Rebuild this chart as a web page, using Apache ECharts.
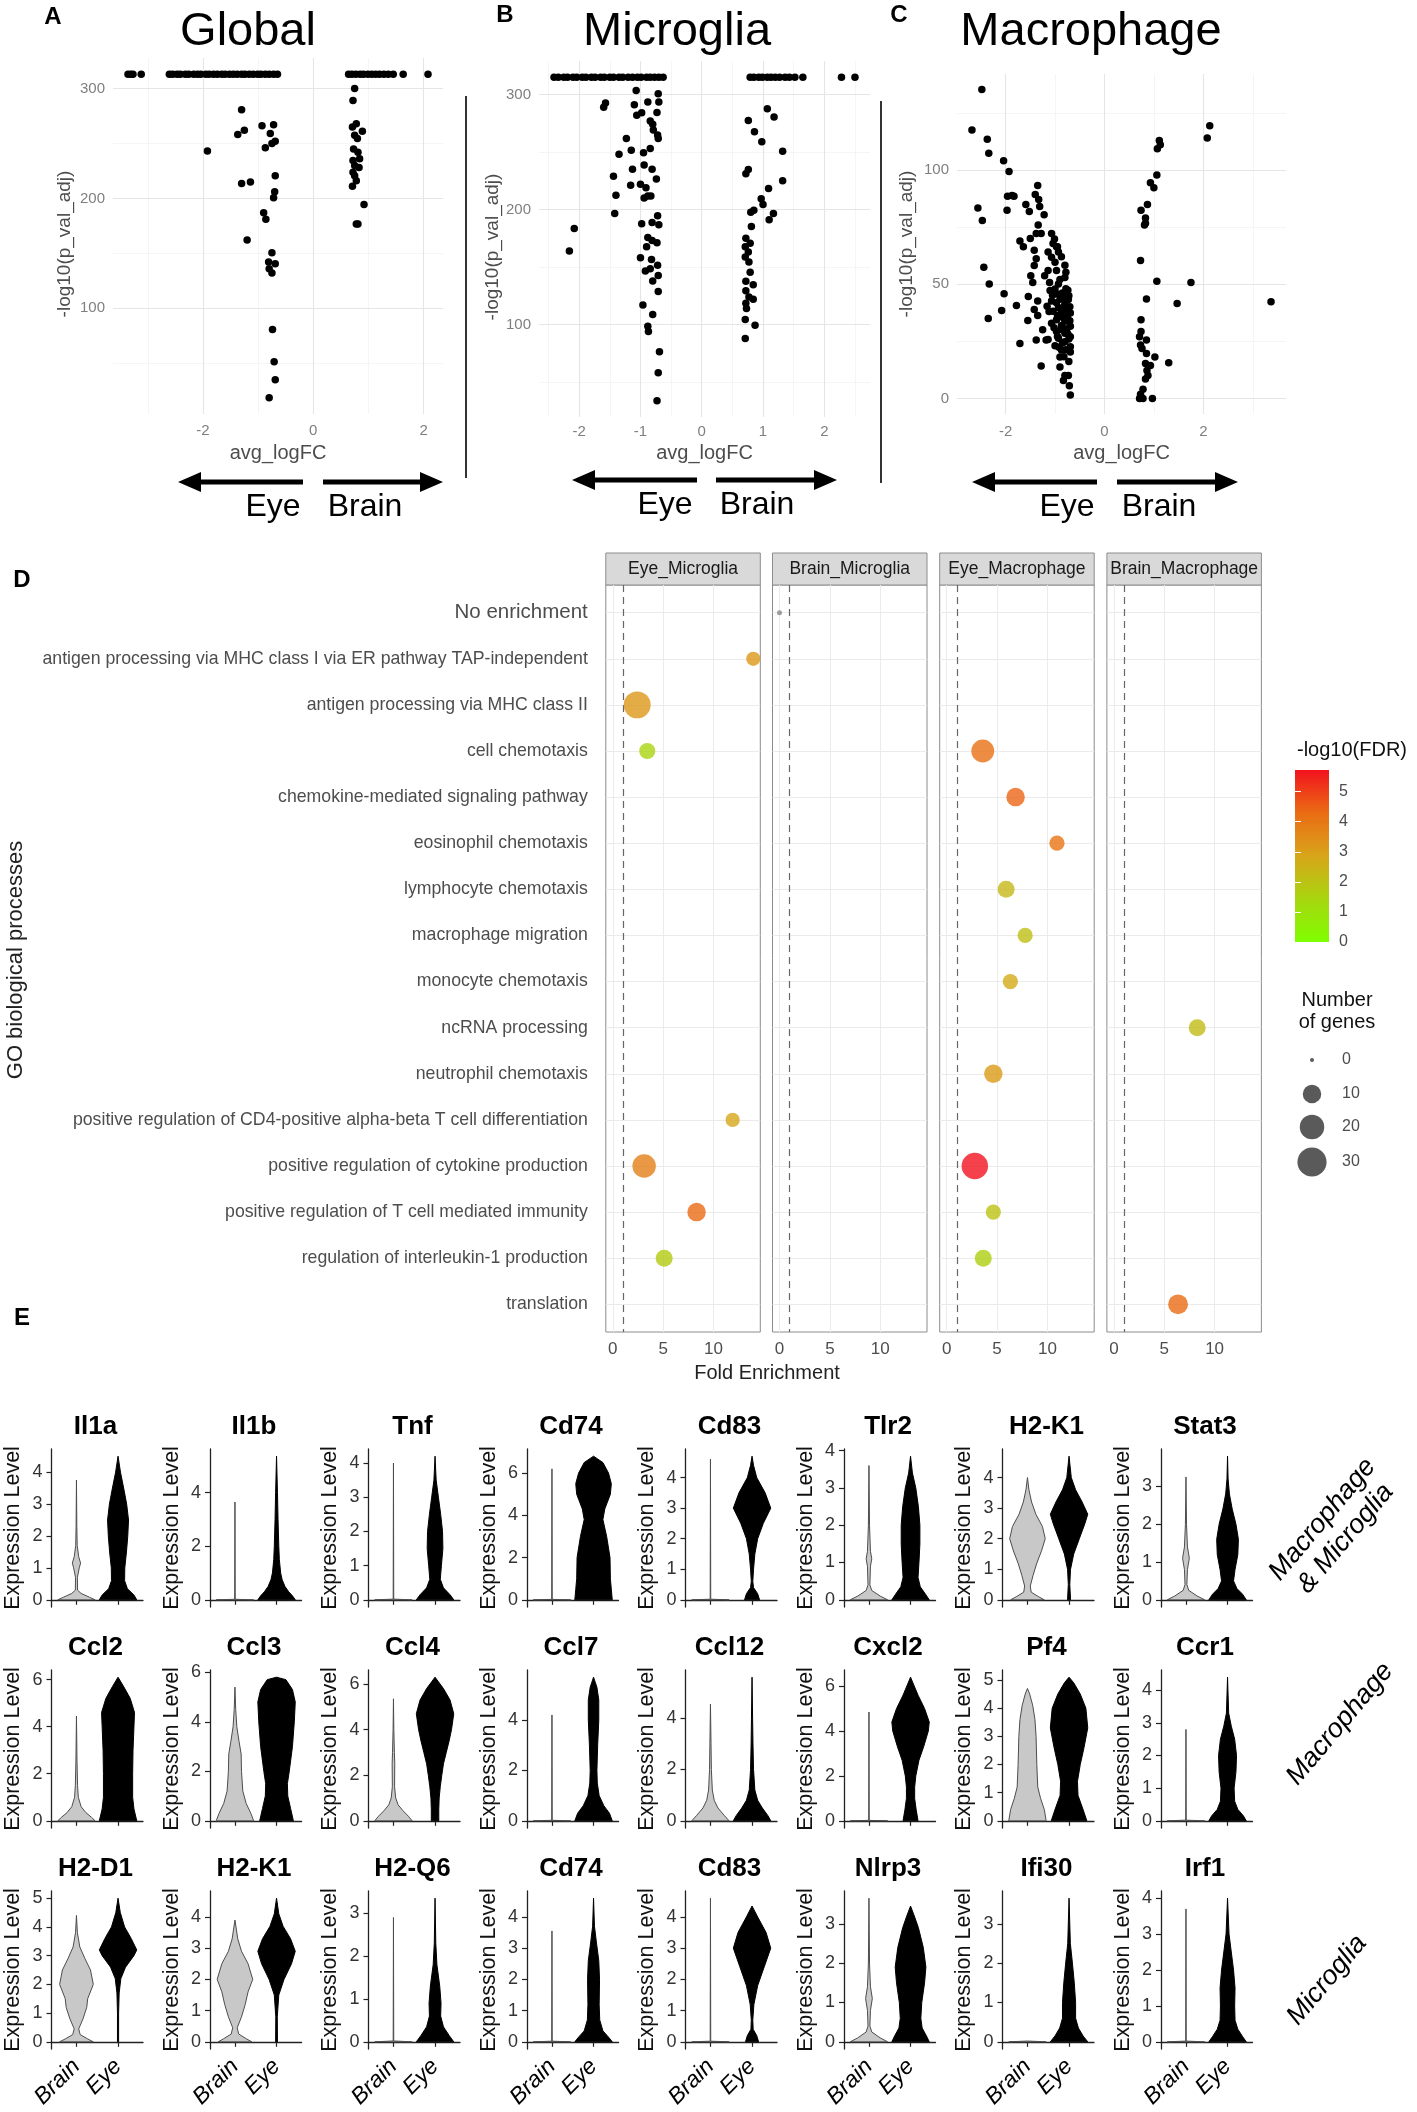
<!DOCTYPE html>
<html>
<head>
<meta charset="utf-8">
<script src="https://cdn.jsdelivr.net/npm/echarts@6/dist/echarts.min.js"></script>
<style>
  html, body { margin: 0; padding: 0; background: #fff; }
  #chart { width: 1417px; height: 2112px; }
</style>
</head>
<body>
<div id="chart"></div>
<script>
// ---------- A-C: volcano data [avg_logFC, -log10(p_val_adj)] ----------
const globalPts = [[-1.30,280.6],[-1.25,262],[-1.37,258],[-1.92,243],[-0.93,266],[-0.72,267],[-0.78,259],[-0.69,252],[-0.87,246],[-0.75,250],
  [-1.30,213.5],[-1.14,215],[-0.69,220.6],[-0.70,206],[-0.72,200.6],[-0.90,187],[-0.86,181],[-1.20,162],[-0.75,150.5],[-0.81,142],
  [-0.69,140.6],[-0.80,136],[-0.75,132],[-0.74,80.6],[-0.71,51.4],[-0.69,35],[-0.80,18.5],
  [0.75,300],[0.72,289],[0.78,268],[0.71,265],[0.89,261],[0.75,257.5],[0.80,254.5],[0.73,245],[0.81,242],[0.84,236],
  [0.72,234.5],[0.75,230],[0.83,228],[0.72,223.7],[0.75,220.6],[0.78,216],[0.71,211],[0.92,194.5],[0.78,176.6],[0.81,176.6]];
// genes with p_val_adj = 0 sit on one capped row at the top
const globalCapFC = [-3.36,-3.31,-3.27,-3.12,-2.61,-2.55,-2.47,-2.41,-2.32,-2.26,-2.17,-2.1,-2.04,-1.95,-1.89,-1.81,-1.74,-1.66,-1.6,-1.52,
  -1.45,-1.38,-1.3,-1.24,-1.16,-1.09,-1.01,-0.95,-0.87,-0.8,-0.72,-0.65,0.64,0.7,0.77,0.85,0.91,0.99,1.06,1.13,1.2,1.28,1.36,1.45,1.63,2.08];
const globalCapP = 313;

const microPts = [[-1.07,303.5],[-0.71,300.6],[-1.57,292.6],[-1.60,288.8],[-1.10,291],[-0.88,293.5],[-0.70,293.5],[-1.06,282],[-0.98,284],[-0.73,284.4],
  [-0.84,277],[-0.80,274],[-0.79,269],[-0.72,264.7],[-0.71,261.8],[-1.23,261.8],[-1.15,251.5],[-0.84,253],[-0.95,249.4],[-1.35,248],
  [-0.94,238.8],[-1.13,235],[-0.81,235],[-1.44,229],[-0.74,226.5],[-1.16,221],[-1.00,222],[-0.91,219],[-0.88,211.8],[-0.94,210],
  [-0.83,211.8],[-1.40,212.4],[-1.42,196.5],[-2.08,183.5],[-2.16,164],[-0.72,194.7],[-0.70,186.8],[-0.98,187.6],[-0.81,188.8],[-0.88,175.6],
  [-0.73,171.2],[-0.81,173],[-0.90,167.6],[-1.00,158],[-0.82,156.5],[-0.84,148.5],[-0.72,151.5],[-0.92,146.5],[-0.71,142.6],[-0.80,138],
  [-0.71,128.8],[-0.96,117],[-0.80,108.8],[-0.88,98.5],[-0.87,94],[-0.69,76.5],[-0.71,58.2],[-0.73,33.8],
  [1.07,287.6],[1.18,280.3],[0.76,277.4],[0.86,267.6],[0.98,258.8],[1.32,250.6],[0.76,234.7],[0.72,231],[1.32,225],[1.09,218.2],
  [0.97,209.4],[1.00,204.4],[0.85,199.4],[0.80,197.6],[1.17,196.5],[1.10,191.2],[0.81,185.3],[0.72,175],[0.79,170.6],[0.71,167.6],
  [0.76,163],[0.71,158.8],[0.77,154.4],[0.79,145.6],[0.72,137.6],[0.84,134.7],[0.72,129.4],[0.77,124],[0.84,122],[0.72,118.5],
  [0.73,114],[0.71,104.4],[0.87,99.4],[0.71,88]];
const microCapFC = [-2.41,-2.34,-2.25,-2.19,-2.1,-2.04,-1.95,-1.89,-1.8,-1.74,-1.65,-1.59,-1.5,-1.44,-1.35,-1.29,-1.2,-1.13,-1.05,-0.99,
  -0.9,-0.84,-0.77,-0.7,-0.63,0.79,0.85,0.93,0.99,1.07,1.13,1.2,1.27,1.36,1.43,1.52,1.65,2.28,2.5];
const microCapP = 315;

const macroPts = [[-2.48,135.3],[-2.68,117.5],[-2.37,113.5],[-2.34,107.4],[-2.04,104.1],[-1.93,99.4],[-1.35,93.3],[-1.40,89.3],[-1.33,87.1],[-1.96,88.6],
  [-1.87,88.9],[-1.83,88.6],[-2.56,83.4],[-1.59,84.9],[-1.52,81.9],[-1.97,82.4],[-2.47,77.9],[-1.31,84.1],[-1.22,80.4],[-1.34,76.0],
  [-1.28,72.3],[-1.38,72.3],[-1.50,70.1],[-1.07,72.3],[-1.71,69.0],[-1.64,66.4],[-1.04,67.9],[-0.97,66.4],[-1.14,64.1],[-0.93,64.1],
  [-1.42,64.9],[-1.38,61.2],[-1.07,61.9],[-1.00,59.7],[-1.42,58.2],[-2.44,57.5],[-1.14,56.0],[-0.97,56.0],[-1.49,53.8],[-1.21,53.8],
  [-0.80,53.0],[-2.33,50.1],[-1.45,50.8],[-1.11,50.8],[-0.93,50.1],[-1.00,47.9],[-0.74,47.4],[-2.03,45.9],[-1.54,44.7],[-0.93,45.6],
  [-0.83,44.1],[-0.73,43.4],[-1.35,42.7],[-1.07,42.7],[-0.97,41.9],[-0.80,41.2],[-1.78,40.7],[-1.16,40.4],[-0.93,39.7],[-0.76,39.0],
  [-2.08,38.5],[-1.42,39.0],[-1.04,38.2],[-0.87,37.5],[-0.69,37.5],[-1.35,36.4],[-2.35,35.0],[-1.55,34.2],[-0.97,34.5],[-0.80,33.8],
  [-1.07,33.0],[-0.87,32.0],[-0.69,31.6],[-1.25,30.1],[-0.97,29.3],[-0.80,28.6],[-0.69,27.1],[-1.14,25.9],[-0.93,26.4],[-1.38,25.6],
  [-1.18,25.6],[-1.71,24.1],[-0.80,24.9],[-1.00,23.1],[-0.69,22.7],[-0.87,21.2],[-0.69,20.4],[-0.90,18.2],[-1.28,14.2],[-0.90,13.8],
  [-0.80,10.1],[-0.73,10.1],[-0.83,7.9],[-0.71,5.6],[-0.69,1.5],
  [-0.85,46.2],[-0.78,48.1],[-0.72,45.0],[-0.90,43.5],[-0.82,40.3],[-0.75,36.2],[-0.70,34.1],[-0.95,36.4],[-0.88,30.2],[-0.76,30.5],
  [-0.72,26.1],[-0.85,24.3],[-0.78,21.4],[-0.95,27.2],[-1.02,31.0],[-0.90,52.1],[-0.78,55.3],[-1.05,45.2],[-1.12,38.1],[-0.82,18.3],
  [-0.72,16.2],[-0.92,22.4],[-1.10,47.3],[-0.70,40.2],[-0.80,58.4],[-0.87,62.1],[-0.95,66.5],[-1.01,69.8],[-0.84,35.5],[-0.74,28.3],
  [2.13,119.4],[2.08,114.1],[1.11,113.0],[1.13,111.1],[1.07,109.3],[1.06,97.8],[0.93,94.5],[1.00,92.3],[0.87,84.9],[0.74,82.4],
  [0.83,79.0],[0.83,76.7],[0.81,76.0],[0.73,60.4],[1.06,51.3],[1.75,50.8],[0.85,43.6],[1.47,41.6],[3.37,42.4],[0.74,34.5],
  [0.74,29.3],[0.71,27.1],[0.85,25.6],[0.73,23.4],[0.76,21.9],[0.85,19.7],[1.02,18.2],[1.30,15.7],[0.83,15.3],[0.93,14.5],
  [0.86,12.3],[0.88,10.1],[0.83,8.6],[0.78,4.1],[0.73,1.9],[0.71,0],[0.78,0],[0.97,0]];

const volcanoTitles = ['Global', 'Microglia', 'Macrophage'];
const volcanoXTicks = [[-2, 0, 2], [-2, -1, 0, 1, 2], [-2, 0, 2]];
const volcanoYTicks = [[100, 200, 300], [100, 200, 300], [0, 50, 100]];
const volcanoXMinor = [[-3, -1, 1], [-2.5, -1.5, -0.5, 0.5, 1.5, 2.5], [-1, 1, 3]];
const volcanoYMinor = [[50, 150, 250], [50, 150, 250], [25, 75, 125]];

// ---------- D: GO enrichment ----------
const goTerms = ['No enrichment',
  'antigen processing via MHC class I via ER pathway TAP-independent',
  'antigen processing via MHC class II', 'cell chemotaxis', 'chemokine-mediated signaling pathway',
  'eosinophil chemotaxis', 'lymphocyte chemotaxis', 'macrophage migration', 'monocyte chemotaxis',
  'ncRNA processing', 'neutrophil chemotaxis',
  'positive regulation of CD4-positive alpha-beta T cell differentiation',
  'positive regulation of cytokine production', 'positive regulation of T cell mediated immunity',
  'regulation of interleukin-1 production', 'translation'];
const facetNames = ['Eye_Microglia', 'Brain_Microglia', 'Eye_Macrophage', 'Brain_Macrophage'];
const enrFacet = [0, 0, 0, 2, 2, 2, 2, 2, 2, 3, 2, 0, 0, 2, 0, 2, 0, 2, 3];
const enrTerm  = [1, 2, 3, 3, 4, 5, 6, 7, 8, 9, 10, 11, 12, 12, 13, 13, 14, 14, 15];
const enrFold  = [13.95, 2.42, 3.42, 3.58, 6.84, 10.95, 5.9, 7.79, 6.32, 8.27, 4.63, 11.9, 3.11, 2.79, 8.32, 4.63, 5.1, 3.63, 6.37];
const enrGenes = [5, 25, 7, 17, 10, 6, 8, 6, 6, 8, 10, 5, 18, 24, 10, 6, 8, 8, 12];
const enrFDR   = [3.2, 3.2, 1.5, 4.2, 4.4, 4.1, 2.3, 2.1, 2.7, 2.2, 3.1, 2.8, 3.8, 5.72, 4.3, 2.0, 1.8, 1.6, 4.3];
const noEnrFacet = 1, noEnrFold = 0, noEnrGenes = 0;
const foldTicks = [0, 5, 10];
const fdrTicks = [0, 1, 2, 3, 4, 5];
const fdrMax = 5.72;
const fdrColors = ['#7fff00', '#a8d60f', '#d8a51a', '#ea6c14', '#f2121e'];
const sizeLegendVals = [0, 10, 20, 30];

// ---------- E: violin profiles [expression level, relative half width] ----------
const vlnGenes = ['Il1a', 'Il1b', 'Tnf', 'Cd74', 'Cd83', 'Tlr2', 'H2-K1', 'Stat3',
  'Ccl2', 'Ccl3', 'Ccl4', 'Ccl7', 'Ccl12', 'Cxcl2', 'Pf4', 'Ccr1',
  'H2-D1', 'H2-K1', 'H2-Q6', 'Cd74', 'Cd83', 'Nlrp3', 'Ifi30', 'Irf1'];
const vlnGroups = ['Brain', 'Eye'];
const vlnRowLabels = ['Macrophage\n& Microglia', 'Macrophage', 'Microglia'];
const vlnTickStep = [1, 2, 1, 2, 1, 1, 1, 1, 2, 2, 2, 2, 2, 2, 1, 1, 1, 1, 1, 1, 1, 1, 1, 1];
const vlnBrain = [
  [[0,1],[0.08,0.7],[0.2,0.25],[0.3,0.06],[0.7,0.05],[1.0,0.15],[1.15,0.22],[1.35,0.12],[1.7,0.04],[2.3,0.02],[3.75,0]],
  [[0,1],[0.02,0.015],[3.65,0]],
  [[0,1],[0.02,0.015],[4.0,0]],
  [[0,1],[0.02,0.015],[6.2,0]],
  [[0,1],[0.02,0.015],[4.6,0]],
  [[0,1],[0.1,0.6],[0.25,0.15],[0.4,0.05],[0.9,0.08],[1.1,0.15],[1.3,0.08],[2,0.03],[3.6,0]],
  [[0,0.9],[0.1,0.6],[0.25,0.2],[0.45,0.15],[0.8,0.3],[1.2,0.5],[1.6,0.75],[2,0.95],[2.4,0.8],[2.8,0.45],[3.2,0.22],[3.6,0.08],[4.0,0]],
  [[0,1],[0.1,0.6],[0.25,0.15],[0.4,0.05],[0.8,0.08],[1.1,0.18],[1.4,0.08],[2,0.03],[3.25,0]],
  [[0,1],[0.15,0.8],[0.35,0.5],[0.6,0.25],[1,0.1],[1.5,0.06],[2.5,0.03],[4.45,0]],
  [[0,1],[0.3,0.85],[0.7,0.6],[1.2,0.42],[2,0.35],[2.7,0.33],[3.2,0.22],[3.8,0.1],[4.5,0.04],[5.4,0]],
  [[0,1],[0.2,0.8],[0.45,0.5],[0.7,0.25],[1,0.12],[1.5,0.06],[2.5,0.07],[3,0.05],[4,0.02],[5.35,0]],
  [[0,1],[0.02,0.015],[4.2,0]],
  [[0,1],[0.2,0.75],[0.5,0.4],[0.8,0.2],[1.2,0.1],[2,0.05],[3,0.03],[4.55,0]],
  [[0,1],[0.02,0.015],[4.85,0]],
  [[0,1],[0.4,0.9],[0.8,0.7],[1.2,0.55],[2,0.5],[3,0.46],[3.6,0.4],[4.1,0.28],[4.5,0.12],[4.7,0]],
  [[0,1],[0.02,0.015],[2.8,0]],
  [[0,0.9],[0.1,0.6],[0.25,0.2],[0.45,0.12],[0.8,0.35],[1.2,0.55],[1.5,0.6],[2,0.9],[2.5,0.75],[2.9,0.45],[3.3,0.18],[3.8,0.05],[4.4,0]],
  [[0,0.9],[0.1,0.6],[0.25,0.2],[0.45,0.12],[0.8,0.35],[1.2,0.55],[1.6,0.7],[2,0.95],[2.5,0.7],[2.9,0.35],[3.3,0.15],[3.9,0]],
  [[0,1],[0.02,0.015],[2.9,0]],
  [[0,1],[0.02,0.015],[3.55,0]],
  [[0,1],[0.02,0.015],[4.6,0]],
  [[0,1],[0.1,0.6],[0.25,0.15],[0.4,0.05],[0.8,0.08],[1.1,0.18],[1.4,0.08],[2,0.03],[3.65,0]],
  [[0,1],[0.02,0]],
  [[0,1],[0.02,0.015],[3.7,0]]
];
const vlnEye = [
  [[0,1],[0.15,0.85],[0.35,0.5],[0.6,0.35],[1,0.36],[1.5,0.45],[2,0.52],[2.5,0.56],[3,0.46],[3.5,0.3],[4,0.13],[4.5,0]],
  [[0,1],[0.15,0.85],[0.3,0.65],[0.5,0.45],[0.75,0.3],[1,0.22],[1.5,0.15],[2,0.12],[3,0.08],[4,0.05],[5.36,0]],
  [[0,1],[0.15,0.8],[0.35,0.45],[0.6,0.28],[1,0.34],[1.5,0.42],[2,0.4],[2.5,0.3],[3,0.18],[3.5,0.06],[4.2,0]],
  [[0,1],[0.5,0.95],[1,0.9],[2,0.88],[3,0.7],[3.8,0.5],[4.3,0.6],[5,0.9],[5.5,0.95],[6,0.8],[6.5,0.5],[6.8,0]],
  [[0,0.4],[0.2,0.3],[0.4,0.08],[0.6,0.04],[1,0.08],[1.5,0.15],[2,0.3],[2.5,0.6],[3,1],[3.5,0.7],[4,0.25],[4.4,0.08],[4.7,0]],
  [[0,1],[0.15,0.8],[0.35,0.52],[0.6,0.4],[1,0.45],[1.5,0.5],[2,0.5],[2.5,0.42],[3,0.28],[3.4,0.1],[3.85,0]],
  [[0,0.08],[0.5,0.04],[1,0.08],[1.5,0.25],[2,0.55],[2.5,0.85],[2.8,1],[3.2,0.7],[3.6,0.35],[4,0.12],[4.7,0]],
  [[0,1],[0.15,0.8],[0.3,0.5],[0.5,0.32],[0.8,0.4],[1.2,0.55],[1.6,0.58],[2,0.45],[2.4,0.25],[2.8,0.1],[3.2,0.03],[3.8,0]],
  [[0,1],[0.5,0.85],[1,0.78],[2,0.78],[3,0.8],[4,0.85],[4.6,0.88],[5.2,0.65],[5.7,0.3],[6.1,0]],
  [[0,0.9],[0.5,0.75],[1,0.6],[1.5,0.58],[2,0.68],[3,0.85],[4,0.95],[4.8,1],[5.3,0.85],[5.7,0.5],[5.8,0]],
  [[0,0.2],[0.5,0.2],[1,0.22],[1.5,0.28],[2,0.36],[2.5,0.45],[3,0.6],[3.5,0.75],[4,0.88],[4.7,1],[5.3,0.8],[5.8,0.45],[6.3,0]],
  [[0,1],[0.3,0.85],[0.6,0.55],[1,0.3],[1.5,0.2],[2,0.18],[3,0.22],[4,0.28],[4.8,0.28],[5.3,0.18],[5.7,0]],
  [[0,1],[0.2,0.85],[0.5,0.55],[0.8,0.3],[1.2,0.15],[2,0.08],[3,0.05],[4,0.03],[5.6,0]],
  [[0,0.4],[0.5,0.3],[1,0.22],[1.5,0.22],[2,0.28],[2.7,0.45],[3.3,0.7],[4,0.95],[4.4,1],[5,0.75],[5.6,0.4],[6.4,0]],
  [[0,0.95],[0.4,0.75],[0.9,0.48],[1.4,0.45],[2,0.6],[2.6,0.8],[3.3,1],[4,0.9],[4.5,0.6],[4.9,0.25],[5.1,0]],
  [[0,1],[0.15,0.85],[0.35,0.55],[0.6,0.38],[1,0.35],[1.5,0.45],[2,0.48],[2.5,0.38],[2.9,0.2],[3.3,0.06],[4.4,0]],
  [[0,0.03],[1,0.03],[1.7,0.06],[2.2,0.15],[2.6,0.4],[3,0.85],[3.2,1],[3.6,0.7],[4,0.35],[4.5,0.12],[5,0]],
  [[0,0.05],[0.8,0.04],[1.5,0.12],[2,0.4],[2.5,0.8],[2.9,1],[3.3,0.75],[3.7,0.35],[4.1,0.12],[4.6,0]],
  [[0,1],[0.15,0.75],[0.35,0.45],[0.6,0.3],[0.9,0.32],[1.3,0.25],[1.8,0.1],[2.3,0.04],[3.35,0]],
  [[0,1],[0.15,0.8],[0.35,0.5],[0.7,0.33],[1.2,0.3],[2,0.32],[2.6,0.28],[3.2,0.15],[3.7,0.05],[4.6,0]],
  [[0,0.35],[0.2,0.25],[0.4,0.06],[0.7,0.04],[1.2,0.1],[1.8,0.3],[2.4,0.65],[3,1],[3.5,0.75],[4,0.3],[4.35,0]],
  [[0,1],[0.15,0.85],[0.35,0.62],[0.6,0.55],[1,0.6],[1.5,0.75],[1.9,0.82],[2.4,0.68],[2.9,0.42],[3.2,0.2],[3.45,0]],
  [[0,1],[0.15,0.75],[0.35,0.5],[0.6,0.35],[1,0.35],[1.5,0.28],[2,0.18],[2.5,0.07],[3.65,0]],
  [[0,1],[0.15,0.8],[0.35,0.55],[0.6,0.4],[1,0.38],[1.5,0.4],[2,0.32],[2.5,0.2],[3,0.08],[4,0]]
];

// ---------- helpers ----------
const FONT = '"Liberation Sans", Arial, Helvetica, sans-serif';
const grids = [], xAxes = [], yAxes = [], series = [], graphics = [];
let chart = null;

function addGrid(left, top, width, height, extra) {
  grids.push(Object.assign({ left, top, width, height, containLabel: false, outerBoundsMode: 'none' }, extra || {}));
  return grids.length - 1;
}
// ggplot style 5% expansion
function expand(vals) {
  const lo = Math.min(...vals), hi = Math.max(...vals), pad = (hi - lo) * 0.05;
  return [lo - pad, hi + pad];
}
function guides(g, items) {
  series.push({ type: 'line', xAxisIndex: g, yAxisIndex: g, data: [], silent: true, z: 1,
    markLine: { silent: true, z: 1, animation: false, symbol: ['none', 'none'], label: { show: false },
      emphasis: { disabled: true }, data: items } });
}
const vLine = (v, color, width, type) => ({ xAxis: v, lineStyle: { color, width, type: type || 'solid' } });
const hLine = (v, color, width, type) => ({ yAxis: v, lineStyle: { color, width, type: type || 'solid' } });

function text(x, y, s, size, opt) {
  opt = opt || {};
  graphics.push({ type: 'text', x, y, rotation: opt.rotation || 0, z: 50, silent: true,
    style: { text: s, fontSize: size, fontFamily: FONT, fontWeight: opt.weight || 'normal',
      fontStyle: opt.italic ? 'italic' : 'normal', fill: opt.color || '#000',
      align: opt.align || 'center', textAlign: opt.align || 'center',
      verticalAlign: 'middle', textVerticalAlign: 'middle', lineHeight: opt.lineHeight || size * 1.15 } });
}
function arrow(xTail, xTip, y) {
  const dir = Math.sign(xTip - xTail);
  graphics.push({ type: 'line', silent: true, shape: { x1: xTail, y1: y, x2: xTip - dir * 14, y2: y },
    style: { stroke: '#000', lineWidth: 5 } });
  graphics.push({ type: 'polygon', silent: true,
    shape: { points: [[xTip, y], [xTip - dir * 23, y - 10], [xTip - dir * 23, y + 10]] }, style: { fill: '#000' } });
}

// ---------- A-C volcano panels ----------
const volcanoLayout = [
  { box: [113, 58, 330, 356], yGap: 39, yPad: [0, 16, 0, 0], xMargin: 9, xGap: 29 },
  { box: [539, 61, 331, 356], yGap: 37, yPad: [0, 16, 0, 0], xMargin: 7, xGap: 26 },
  { box: [957, 74, 329, 340], yGap: 41, yPad: [0, 0, 0, 0], xMargin: 10, xGap: 29 }
];
const volcanoData = [
  globalPts.concat(globalCapFC.map(x => [x, globalCapP])),
  microPts.concat(microCapFC.map(x => [x, microCapP])),
  macroPts
];
volcanoData.forEach((pts, i) => {
  const L = volcanoLayout[i];
  const g = addGrid(...L.box);
  const xr = expand(pts.map(d => d[0])), yr = expand(pts.map(d => d[1]));
  xAxes.push({ type: 'value', gridIndex: g, min: xr[0], max: xr[1],
    axisLine: { show: false }, axisTick: { show: false }, splitLine: { show: false },
    axisLabel: { customValues: volcanoXTicks[i], color: '#7f7f7f', fontSize: 15, fontFamily: FONT, margin: L.xMargin },
    name: 'avg_logFC', nameLocation: 'middle', nameGap: L.xGap,
    nameTextStyle: { fontSize: 20, color: '#4d4d4d', fontFamily: FONT } });
  yAxes.push({ type: 'value', gridIndex: g, min: yr[0], max: yr[1],
    axisLine: { show: false }, axisTick: { show: false }, splitLine: { show: false },
    axisLabel: { customValues: volcanoYTicks[i], color: '#7f7f7f', fontSize: 15, fontFamily: FONT, margin: 8 },
    name: '-log10(p_val_adj)', nameLocation: 'middle', nameGap: L.yGap,
    nameTextStyle: { fontSize: 19, color: '#4d4d4d', fontFamily: FONT, padding: L.yPad } });
  guides(g, [
    ...volcanoXMinor[i].map(v => vLine(v, '#f2f2f2', 0.8)),
    ...volcanoYMinor[i].map(v => hLine(v, '#f2f2f2', 0.8)),
    ...volcanoXTicks[i].map(v => vLine(v, '#e5e5e5', 1.1)),
    ...volcanoYTicks[i].map(v => hLine(v, '#e5e5e5', 1.1))
  ]);
  series.push({ type: 'scatter', xAxisIndex: g, yAxisIndex: g, data: pts, symbolSize: 7.5, z: 10,
    itemStyle: { color: '#000', opacity: 1 }, emphasis: { disabled: true } });
});

// titles, arrows, Eye / Brain labels
text(53, 17, 'A', 24, { weight: 'bold' });
text(505, 15, 'B', 24, { weight: 'bold' });
text(899, 15, 'C', 24, { weight: 'bold' });
const titleX = [248, 677, 1091];
volcanoTitles.forEach((t, i) => text(titleX[i], 32, t, 47));
// [left tail, left tip, right tail, right tip, arrow y, Eye x, Brain x, text y]
const arrowSpec = [[303, 178, 323, 443, 482, 273, 365, 507], [697, 572, 716, 837, 480, 665, 757, 505],
  [1097, 972, 1117, 1238, 482, 1067, 1159, 507]];
arrowSpec.forEach(a => {
  arrow(a[0], a[1], a[4]);
  arrow(a[2], a[3], a[4]);
  text(a[5], a[7], 'Eye', 32);
  text(a[6], a[7], 'Brain', 32);
});
graphics.push({ type: 'line', silent: true, shape: { x1: 466, y1: 96, x2: 466, y2: 478 }, style: { stroke: '#333', lineWidth: 2 } });
graphics.push({ type: 'line', silent: true, shape: { x1: 881, y1: 101, x2: 881, y2: 483 }, style: { stroke: '#333', lineWidth: 2 } });

// ---------- D: GO enrichment facets ----------
const facetLeft = [605.8, 772.5, 939.7, 1106.9];
const facetW = 154.5, facetTop = 585, facetH = 747;
const foldRange = expand(enrFold.concat([noEnrFold]));
const termIdx = goTerms.map((t, i) => i);
const dotSeries = [];
const sizeOf = n => 4 + 4.59 * Math.sqrt(n);

facetNames.forEach((fname, f) => {
  const g = addGrid(facetLeft[f], facetTop, facetW, facetH,
    { show: true, borderColor: '#8c8c8c', borderWidth: 1, backgroundColor: 'rgba(0,0,0,0)' });
  xAxes.push({ type: 'value', gridIndex: g, min: foldRange[0], max: foldRange[1],
    axisLine: { show: false }, splitLine: { show: false },
    axisTick: { show: true, customValues: foldTicks, length: 5, lineStyle: { color: '#444' } },
    axisLabel: { customValues: foldTicks, fontSize: 17, color: '#4d4d4d', fontFamily: FONT, margin: 9 } });
  yAxes.push({ type: 'value', gridIndex: g, min: -0.6, max: goTerms.length - 0.4, inverse: true,
    axisLine: { show: false }, splitLine: { show: false },
    axisTick: { show: f === 0, customValues: termIdx, length: 5, lineStyle: { color: '#444' } },
    axisLabel: { show: f === 0, customValues: termIdx, margin: 18, fontSize: 17.7, color: '#4d4d4d', fontFamily: FONT,
      formatter: v => (v === 0 ? '{big|' + goTerms[0] + '}' : goTerms[v]),
      rich: { big: { fontSize: 20.5, color: '#4d4d4d', fontFamily: FONT } } } });
  guides(g, [
    ...foldTicks.map(v => vLine(v, '#ebebeb', 1)),
    ...termIdx.map(v => hLine(v, '#ebebeb', 1)),
    vLine(1, '#666', 1.2, [7, 5])
  ]);
  const pts = [];
  enrFacet.forEach((fi, i) => { if (fi === f) pts.push([enrFold[i], enrTerm[i], fi, enrGenes[i], enrFDR[i]]); });
  dotSeries.push(series.length);
  series.push({ type: 'scatter', xAxisIndex: g, yAxisIndex: g, data: pts, z: 10,
    symbolSize: v => sizeOf(v[3]), itemStyle: { opacity: 0.8 }, emphasis: { disabled: true } });
  if (f === noEnrFacet) {
    series.push({ type: 'scatter', xAxisIndex: g, yAxisIndex: g, z: 10,
      data: [[noEnrFold, 0, f, noEnrGenes]], symbolSize: v => sizeOf(v[3]) + 1,
      itemStyle: { color: '#888' }, emphasis: { disabled: true } });
  }
  // facet strip
  graphics.push({ type: 'rect', silent: true, shape: { x: facetLeft[f], y: 553, width: facetW, height: 32 },
    style: { fill: '#d9d9d9', stroke: '#8c8c8c', lineWidth: 1 } });
  text(facetLeft[f] + facetW / 2, 569.5, fname, 17.5, { color: '#1a1a1a' });
});
text(22, 580, 'D', 24, { weight: 'bold' });
text(16, 960, 'GO biological processes', 22, { rotation: Math.PI / 2, color: '#222' });
text(767, 1373, 'Fold Enrichment', 20, { color: '#222' });

// colour bar for -log10(FDR)
const cb = addGrid(1295, 770, 34, 172, { show: true, borderWidth: 0,
  backgroundColor: { type: 'linear', x: 0, y: 1, x2: 0, y2: 0,
    colorStops: fdrColors.map((c, i) => ({ offset: i / (fdrColors.length - 1), color: c })) } });
xAxes.push({ type: 'value', gridIndex: cb, min: 0, max: 1, show: false });
yAxes.push({ type: 'value', gridIndex: cb, min: 0, max: fdrMax, position: 'right',
  axisLine: { show: false }, splitLine: { show: false },
  axisTick: { show: true, inside: true, length: 6, customValues: fdrTicks, lineStyle: { color: '#fff', width: 1 } },
  axisLabel: { customValues: fdrTicks, fontSize: 16, color: '#4d4d4d', fontFamily: FONT, margin: 10 } });
yAxes.push({ type: 'value', gridIndex: cb, min: 0, max: fdrMax, position: 'left',
  axisLine: { show: false }, splitLine: { show: false }, axisLabel: { show: false },
  axisTick: { show: true, inside: true, length: 6, customValues: fdrTicks, lineStyle: { color: '#fff', width: 1 } } });
series.push({ type: 'scatter', xAxisIndex: cb, yAxisIndex: yAxes.length - 2, data: [], silent: true });
text(1297, 750, '-log10(FDR)', 20, { align: 'left', color: '#111' });

// size legend
text(1337, 1000, 'Number', 20, { color: '#111' });
text(1337, 1022, 'of genes', 20, { color: '#111' });
const sizeLegendY = [1060, 1094, 1127, 1162];
sizeLegendVals.forEach((n, i) => {
  graphics.push({ type: 'circle', silent: true, shape: { cx: 1312, cy: sizeLegendY[i], r: sizeOf(n) / 2 },
    style: { fill: '#5a5a5a' } });
  text(1342, sizeLegendY[i], String(n), 16, { align: 'left', color: '#4d4d4d' });
});

// ---------- E: violin plots ----------
text(22, 1318, 'E', 24, { weight: 'bold' });
const vlnLeft0 = 51.5, vlnStepX = 158.5, vlnTop0 = 1449, vlnStepY = 221, vlnW = 91.5, vlnH = 158;
vlnGenes.forEach((gene, k) => {
  const r = Math.floor(k / 8), c = k % 8;
  const left = vlnLeft0 + vlnStepX * c, top = vlnTop0 + vlnStepY * r;
  const profiles = [vlnBrain[k], vlnEye[k]];
  const M = Math.max(...profiles.map(p => p[p.length - 1][0]));
  const step = vlnTickStep[k];
  const ticks = [];
  for (let t = 0; t <= 1.05 * M + 1e-9; t += step) ticks.push(t);
  const g = addGrid(left, top, vlnW, vlnH);
  xAxes.push({ type: 'value', gridIndex: g, min: 0.4, max: 2.6, splitLine: { show: false },
    axisLine: { show: true, lineStyle: { color: '#222', width: 1.3 } },
    axisTick: { show: true, customValues: [1, 2], length: 5, lineStyle: { color: '#222', width: 1.2 } },
    axisLabel: { show: r === 2, customValues: [1, 2], formatter: v => vlnGroups[Math.round(v) - 1],
      rotate: 45, fontSize: 23, fontStyle: 'italic', color: '#000', fontFamily: FONT, margin: 14 } });
  yAxes.push({ type: 'value', gridIndex: g, min: -0.05 * M, max: 1.05 * M, splitLine: { show: false },
    axisLine: { show: true, lineStyle: { color: '#222', width: 1.3 } },
    axisTick: { show: true, customValues: ticks, length: 5, lineStyle: { color: '#222', width: 1.2 } },
    axisLabel: { customValues: ticks, fontSize: 18, color: '#333', fontFamily: FONT, margin: 9 },
    name: 'Expression Level', nameLocation: 'middle', nameGap: 27,
    nameTextStyle: { fontSize: 21.5, color: '#111', fontFamily: FONT } });
  series.push({ type: 'custom', coordinateSystem: 'cartesian2d', xAxisIndex: g, yAxisIndex: g, z: 10,
    data: profiles.map((p, i) => [i + 1, p[p.length - 1][0]]),
    encode: { x: 0, y: 1 },
    renderItem: (params, api) => {
      const toPx = api.coord ? (p => api.coord(p)) : (p => chart.convertToPixel({ gridIndex: g }, p));
      const i = params.dataIndex, prof = profiles[i], xc = i + 1;
      const right = prof.map(([y, w]) => toPx([xc + w * 0.45, y]));
      const leftSide = prof.slice().reverse().map(([y, w]) => toPx([xc - w * 0.45, y]));
      return { type: 'polygon', shape: { points: right.concat(leftSide) },
        style: i === 0 ? { fill: '#c8c8c8', stroke: '#4d4d4d', lineWidth: 1 }
                       : { fill: '#000', stroke: '#000', lineWidth: 1 } };
    } });
  text(left + 44, 1427 + vlnStepY * r, gene, 26, { weight: 'bold' });
});
const rowLabelPos = [[1334, 1529], [1340, 1724], [1327, 1980]];
vlnRowLabels.forEach((s, r) => text(rowLabelPos[r][0], rowLabelPos[r][1], s, 27,
  { italic: true, rotation: 50 * Math.PI / 180, lineHeight: 30 }));

chart = echarts.init(document.getElementById('chart'), null, { renderer: 'canvas' });
chart.setOption({
  animation: false,
  backgroundColor: '#fff',
  textStyle: { fontFamily: FONT },
  grid: grids,
  xAxis: xAxes,
  yAxis: yAxes,
  visualMap: [{ type: 'continuous', show: false, seriesIndex: dotSeries, dimension: 4,
    min: 0, max: fdrMax, inRange: { color: fdrColors } }],
  series: series,
  graphic: { elements: graphics }
});
</script>
</body>
</html>
